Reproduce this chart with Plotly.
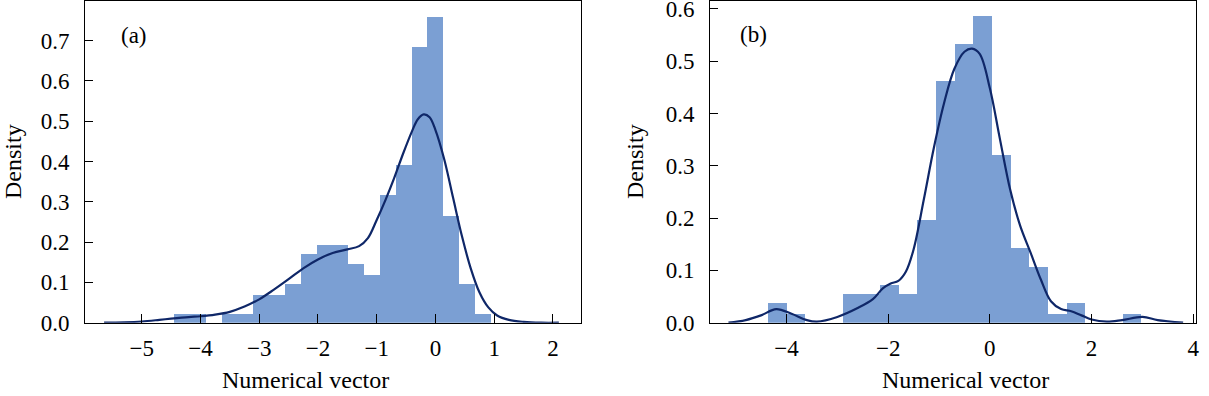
import plotly.graph_objects as go

# ---------------- data: panel (a) ----------------
a_edges = [-4.445, -4.176, -3.907, -3.637, -3.368, -3.099, -2.830, -2.561, -2.291, -2.022,
           -1.753, -1.484, -1.215, -0.945, -0.676, -0.407, -0.138, 0.131, 0.400, 0.669, 0.938]
a_density = [0.022, 0.022, 0.0, 0.022, 0.022, 0.070, 0.070, 0.097, 0.171, 0.192,
             0.192, 0.145, 0.118, 0.318, 0.391, 0.685, 0.760, 0.266, 0.097, 0.022]
a_kde_x = [-5.64, -5.3, -5.0, -4.7, -4.5, -4.2, -4.0, -3.75, -3.5, -3.25, -3.0, -2.75, -2.5,
           -2.25, -2.0, -1.75, -1.5, -1.3, -1.15, -1.0, -0.85, -0.7, -0.55, -0.4, -0.3, -0.2,
           -0.1, 0.0, 0.15, 0.3, 0.45, 0.6, 0.75, 0.9, 1.05, 1.25, 1.5, 1.8, 2.1]
a_kde_y = [0.0, 0.001, 0.003, 0.007, 0.010, 0.014, 0.016, 0.020, 0.027, 0.040, 0.058, 0.082, 0.108,
           0.135, 0.157, 0.173, 0.182, 0.190, 0.210, 0.255, 0.305, 0.360, 0.420, 0.475, 0.505, 0.517,
           0.510, 0.478, 0.405, 0.310, 0.215, 0.135, 0.075, 0.038, 0.018, 0.007, 0.002, 0.0, 0.0]
a_xticks = [-5, -4, -3, -2, -1, 0, 1, 2]
a_yticks = [0.0, 0.1, 0.2, 0.3, 0.4, 0.5, 0.6, 0.7]

# ---------------- data: panel (b) ----------------
b_edges = [-4.362, -3.995, -3.628, -3.261, -2.894, -2.527, -2.159, -1.792, -1.425, -1.058,
           -0.691, -0.324, 0.043, 0.410, 0.777, 1.144, 1.511, 1.878, 2.245, 2.612, 2.979]
b_density = [0.037, 0.017, 0.0, 0.0, 0.054, 0.054, 0.073, 0.054, 0.196, 0.463,
             0.533, 0.587, 0.321, 0.143, 0.107, 0.017, 0.037, 0.0, 0.0, 0.017]
b_kde_x = [-5.14, -4.8, -4.5, -4.2, -3.9, -3.6, -3.4, -3.0, -2.6, -2.3, -2.1, -1.95, -1.8, -1.65,
           -1.5, -1.3, -1.1, -0.9, -0.7, -0.5, -0.35, -0.2, 0.0, 0.2, 0.4, 0.6, 0.8, 1.0, 1.2, 1.4,
           1.6, 1.8, 2.0, 2.3, 2.6, 3.0, 3.3, 3.8]
b_kde_y = [0.0, 0.005, 0.014, 0.026, 0.017, 0.005, 0.002, 0.011, 0.028, 0.045, 0.066, 0.075, 0.080,
           0.098, 0.140, 0.235, 0.335, 0.420, 0.485, 0.518, 0.524, 0.514, 0.448, 0.350, 0.254, 0.184,
           0.134, 0.083, 0.041, 0.026, 0.022, 0.014, 0.006, 0.002, 0.005, 0.011, 0.005, 0.0]
b_xticks = [-4, -2, 0, 2, 4]
b_yticks = [0.0, 0.1, 0.2, 0.3, 0.4, 0.5, 0.6]

x_title = "Numerical vector"
y_title = "Density"
panel_labels = ["(a)", "(b)"]

BAR = "#7b9fd3"
LINE = "#0f2768"
FONT = "Liberation Serif"


def centers(edges):
    return [(edges[i] + edges[i + 1]) / 2 for i in range(len(edges) - 1)]


def widths(edges):
    return [edges[i + 1] - edges[i] for i in range(len(edges) - 1)]


fig = go.Figure()
fig.add_trace(go.Bar(x=centers(a_edges), y=a_density, width=widths(a_edges),
                     marker=dict(color=BAR, line=dict(width=0)), xaxis="x", yaxis="y",
                     showlegend=False))
fig.add_trace(go.Scatter(x=a_kde_x, y=a_kde_y, mode="lines", line=dict(color=LINE, width=2.2, shape="spline"),
                         xaxis="x", yaxis="y", showlegend=False))
fig.add_trace(go.Bar(x=centers(b_edges), y=b_density, width=widths(b_edges),
                     marker=dict(color=BAR, line=dict(width=0)), xaxis="x2", yaxis="y2",
                     showlegend=False))
fig.add_trace(go.Scatter(x=b_kde_x, y=b_kde_y, mode="lines", line=dict(color=LINE, width=2.2, shape="spline"),
                         xaxis="x2", yaxis="y2", showlegend=False))

W, H = 1209, 396
ydom = [(H - 322.7) / H, (H - 1) / H]

axis_common = dict(showline=True, linecolor="black", linewidth=1, mirror=True, automargin=False,
                   ticks="inside", tickcolor="black", tickwidth=1, showgrid=False,
                   zeroline=False, ticklabeloverflow="allow",
                   tickfont=dict(family=FONT, size=23, color="black"))

title_font = dict(family=FONT, size=24, color="black")

fig.update_layout(
    width=W, height=H, margin=dict(l=0, r=0, t=0, b=0, autoexpand=False),
    plot_bgcolor="white", paper_bgcolor="white", bargap=0,
    font=dict(family=FONT, color="black"),
    xaxis=dict(domain=[85 / W, 581 / W], range=[-5.965, 2.477], tickvals=a_xticks,
               ticklen=9, anchor="y", ticklabelstandoff=5, **axis_common),
    yaxis=dict(domain=ydom, range=[0, 0.7985], tickvals=a_yticks, tickformat=".1f",
               ticklen=8, anchor="x", ticklabelstandoff=10, **axis_common),
    xaxis2=dict(domain=[710 / W, 1196 / W], range=[-5.503, 4.053], tickvals=b_xticks,
                ticklen=9, anchor="y2", ticklabelstandoff=5, **axis_common),
    yaxis2=dict(domain=ydom, range=[0, 0.615], tickvals=b_yticks, tickformat=".1f",
                ticklen=8, anchor="x2", ticklabelstandoff=10, **axis_common),
    annotations=[
        dict(text=panel_labels[0], x=-5.13, y=0.714, xref="x", yref="y", showarrow=False,
             font=dict(family=FONT, size=23, color="black")),
        dict(text=panel_labels[1], x=-4.65, y=0.55, xref="x2", yref="y2", showarrow=False,
             font=dict(family=FONT, size=23, color="black")),
        dict(text=x_title, x=305 / W, y=(H - 380) / H, xref="paper", yref="paper",
             xanchor="center", yanchor="middle", showarrow=False, font=title_font),
        dict(text=x_title, x=965 / W, y=(H - 380) / H, xref="paper", yref="paper",
             xanchor="center", yanchor="middle", showarrow=False, font=title_font),
        dict(text=y_title, x=13 / W, y=(H - 162) / H, xref="paper", yref="paper", textangle=-90,
             xanchor="center", yanchor="middle", showarrow=False, font=title_font),
        dict(text=y_title, x=635 / W, y=(H - 162) / H, xref="paper", yref="paper", textangle=-90,
             xanchor="center", yanchor="middle", showarrow=False, font=title_font),
    ],
)

fig.write_html("out.html", config={"displayModeBar": False},
               post_script="document.body.style.margin='0';document.body.style.overflow='hidden';")
